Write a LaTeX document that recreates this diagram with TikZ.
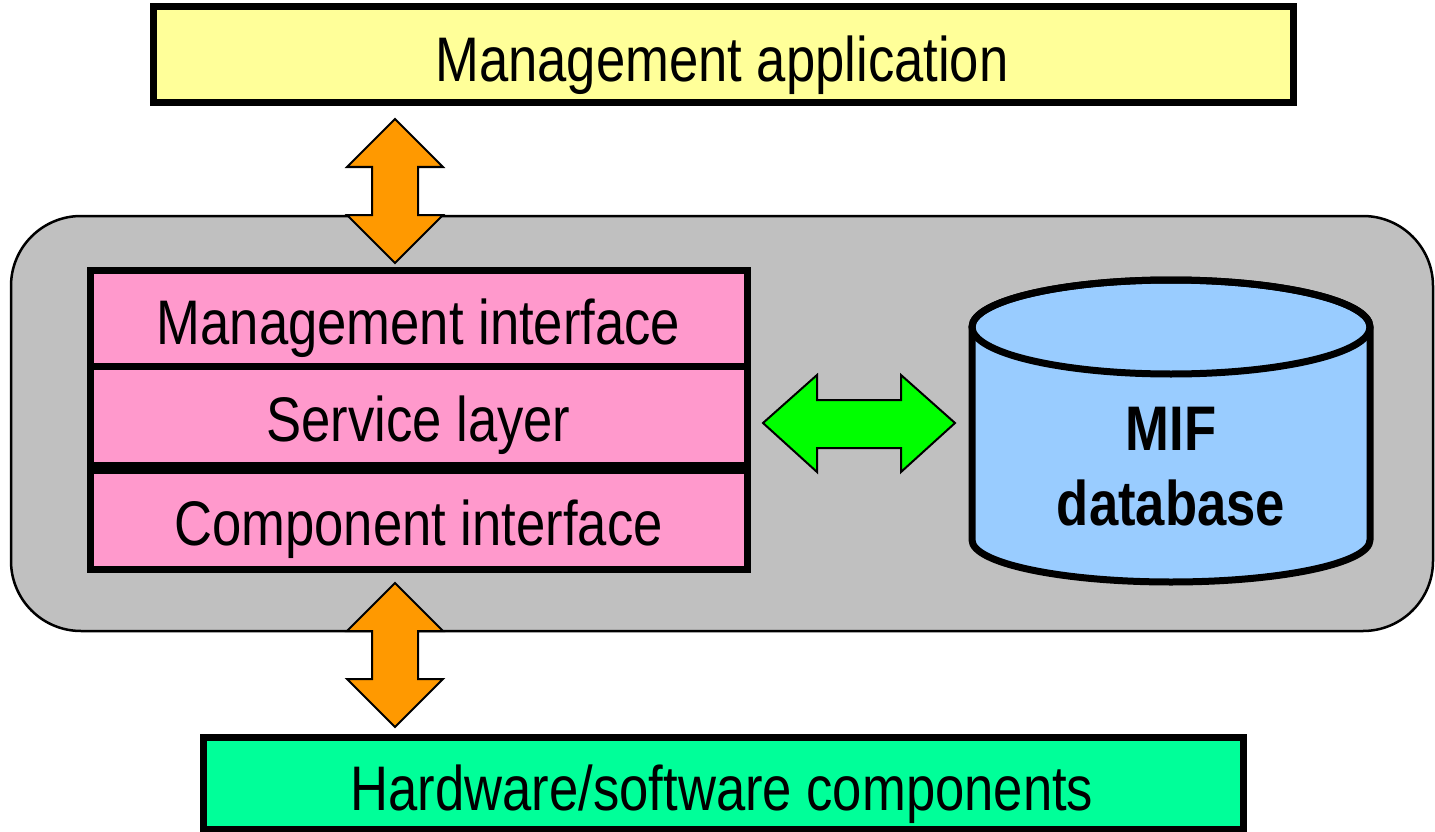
\documentclass[tikz,border=0pt]{standalone}
\usepackage{fontspec}
\setmainfont{Liberation Sans}[FakeStretch=0.835]
\definecolor{appyellow}{HTML}{FFFF99}
\definecolor{framegray}{HTML}{C0C0C0}
\definecolor{layerpink}{HTML}{FF99CC}
\definecolor{dbblue}{HTML}{99CCFF}
\definecolor{hwgreen}{HTML}{00FF99}
\definecolor{arroworange}{HTML}{FF9900}
\definecolor{arrowgreen}{HTML}{00FF00}
\begin{document}
\begin{tikzpicture}[x=1pt,y=-1pt,
  box/.style={draw, line width=7pt, inner sep=0pt},
  lbl/.style={font=\fontsize{63}{70}\selectfont, inner sep=0pt, anchor=base},
  blockarrow/.style={draw, line width=2pt, line join=miter}]
\useasboundingbox (0,0) rectangle (1435,832);
% outer frame
\draw[fill=framegray, line width=2.5pt, rounded corners=70pt] (11,216) rectangle (1433,631);
% top box
\node[box, fill=appyellow, minimum width=1140pt, minimum height=96pt] (app) at (723,55) {};
\node[lbl] (appt) at (722,82) {Management application};
% layers
\node[box, fill=layerpink, minimum width=657pt, minimum height=96pt] (mi) at (418.5,318) {};
\node[box, fill=layerpink, minimum width=657pt, minimum height=99pt] (sl) at (418.5,415.5) {};
\node[box, fill=layerpink, minimum width=657pt, minimum height=99pt] (ci) at (418.5,519.5) {};
\node[lbl] (mit) at (418.5,344) {Management interface};
\node[lbl] (slt) at (418.5,441) {Service layer};
\node[lbl] (cit) at (418.5,545) {Component interface};
% bottom box
\node[box, fill=hwgreen, minimum width=1040pt, minimum height=92pt] (hw) at (723,783) {};
\node[lbl] (hwt) at (722,810) {Hardware/software components};
% database cylinder
\filldraw[fill=dbblue, line width=7pt, line join=round]
  (972,327) -- (972,540) arc[start angle=180, end angle=0, x radius=199, y radius=42]
  -- (1370,327) arc[start angle=0, end angle=-180, x radius=199, y radius=47] -- cycle;
\draw[line width=7pt] (1171,327) ellipse[x radius=199, y radius=47];
\node[lbl, font=\fontsize{63}{70}\selectfont\bfseries] (mif) at (1171,450) {MIF};
\node[lbl, font=\fontsize{63}{70}\selectfont\bfseries] (dbt) at (1171,525) {database};
% orange arrows
\draw[blockarrow, fill=arroworange] (395,119) -- (443,167) -- (418,167) -- (418,215) -- (443,215) -- (395,263)
  -- (347,215) -- (372,215) -- (372,167) -- (347,167) -- cycle;
\draw[blockarrow, fill=arroworange] (395,583) -- (443,631) -- (418,631) -- (418,679) -- (443,679) -- (395,727)
  -- (347,679) -- (372,679) -- (372,631) -- (347,631) -- cycle;
% green arrow
\draw[blockarrow, fill=arrowgreen] (763,423) -- (817,375) -- (817,400) -- (901,400) -- (901,375) -- (955,423)
  -- (901,472) -- (901,448) -- (817,448) -- (817,472) -- cycle;
\end{tikzpicture}
\end{document}
